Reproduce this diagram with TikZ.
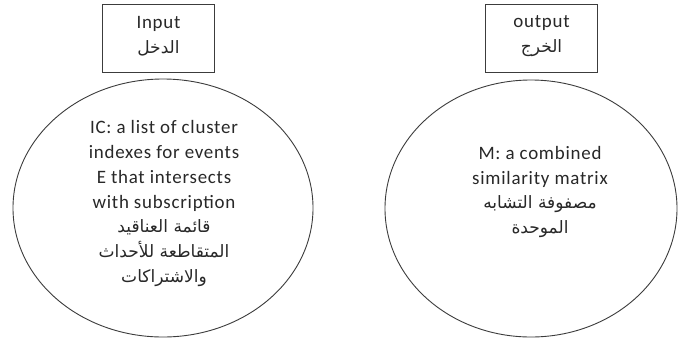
\documentclass[tikz,border=0pt]{standalone}
\usepackage{fontspec}
\setmainfont[LetterSpace=4]{Carlito}
\newfontfamily\arabicfont[Script=Arabic,Scale=0.9]{DejaVu Sans}
\TeXXeTstate=1
\usetikzlibrary{shapes.geometric}
\definecolor{edge}{RGB}{60,60,60}
\definecolor{ink}{RGB}{40,40,40}
\tikzset{
  titlebox/.style={draw=edge, line width=0.9bp, minimum width=112bp, minimum height=68bp, inner sep=0pt},
  bubble/.style={draw=edge, line width=0.9bp, ellipse, inner sep=0pt},
  txt/.style={text=ink, align=center, font=\fontsize{19}{24.8}\selectfont, inner sep=0pt}
}
\newcommand{\ar}[1]{{\arabicfont\beginR #1\endR}}
\begin{document}
\begin{tikzpicture}[x=1bp,y=-1bp]
  \useasboundingbox[fill=white] (0,0) rectangle (678,339);

  % heading boxes
  \node[titlebox] (inbox) at (158.5,38) {};
  \node[txt] (intext) at (158.5,36) {Input\\\ar{الدخل}};
  \node[titlebox] (outbox) at (541.5,38) {};
  \node[txt] (outtext) at (541.5,36) {output\\\ar{الخرج}};

  % ellipses
  \node[bubble, minimum width=300bp, minimum height=258bp] (inell) at (163,208) {};
  \node[txt] (intxt) at (164,203.5) {IC: a list of cluster\\indexes for events\\E that intersects\\with subscription\\\ar{قائمة العناقيد}\\\ar{المتقاطعة للأحداث}\\\ar{والاشتراكات}};

  \node[bubble, minimum width=292bp, minimum height=257bp] (outell) at (531,208.5) {};
  \node[txt] (outtxt) at (540,192) {M: a combined\\similarity matrix\\\ar{مصفوفة التشابه}\\\ar{الموحدة}};
\end{tikzpicture}
\end{document}
